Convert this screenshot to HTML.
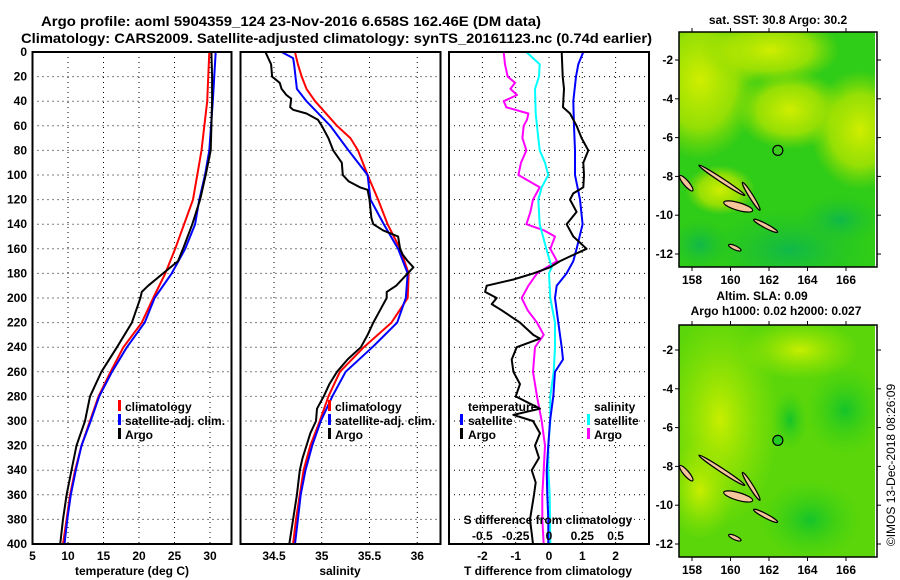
<!DOCTYPE html>
<html><head><meta charset="utf-8">
<style>
html,body{margin:0;padding:0;background:#fff;}
svg{display:block;font-family:"Liberation Sans",sans-serif;font-weight:bold;}
</style></head>
<body>
<svg id="chart" width="900" height="580" viewBox="0 0 900 580" xmlns="http://www.w3.org/2000/svg">
<defs>
<radialGradient id="sstY1" cx="0.5" cy="0.5" r="0.5"><stop offset="0" stop-color="#d0ee00"/><stop offset="0.6" stop-color="#aee400" stop-opacity="0.8"/><stop offset="1" stop-color="#8fdc00" stop-opacity="0"/></radialGradient>
<radialGradient id="sstG" cx="0.5" cy="0.5" r="0.5"><stop offset="0" stop-color="#0fb84a"/><stop offset="1" stop-color="#1fc22a" stop-opacity="0"/></radialGradient>
<radialGradient id="slaY" cx="0.5" cy="0.5" r="0.5"><stop offset="0" stop-color="#c8ee00"/><stop offset="1" stop-color="#a0e600" stop-opacity="0"/></radialGradient>
<radialGradient id="slaG" cx="0.5" cy="0.5" r="0.5"><stop offset="0" stop-color="#14c42a"/><stop offset="1" stop-color="#3cd010" stop-opacity="0"/></radialGradient>
<clipPath id="clipTop"><rect x="679" y="32" width="196" height="235"/></clipPath>
<clipPath id="clipBot"><rect x="679" y="325" width="196" height="232"/></clipPath>
</defs>
<g fill="#000" font-size="14">
<text x="41" y="26" textLength="500" lengthAdjust="spacingAndGlyphs">Argo profile: aoml 5904359_124 23-Nov-2016 6.658S 162.46E (DM data)</text>
<text x="21" y="43" textLength="631" lengthAdjust="spacingAndGlyphs">Climatology: CARS2009. Satellite-adjusted climatology: synTS_20161123.nc (0.74d earlier)</text>
</g>
<g id="grids"></g>
<g id="series"></g>
<g id="frames" fill="none" stroke="#000" stroke-width="2">
<rect x="32.5" y="52" width="199" height="492"/>
<rect x="240.5" y="52" width="200" height="492"/>
<rect x="449" y="52" width="200" height="492"/>
</g>
<g id="labels" font-size="12"></g>
<g font-size="12">
<text x="132" y="575" text-anchor="middle">temperature (deg C)</text>
<text x="340" y="575" text-anchor="middle">salinity</text>
<text x="548" y="575" text-anchor="middle">T difference from climatology</text>
<text x="548" y="524" text-anchor="middle">S difference from climatology</text>
</g>
<g font-size="12">
<g>
<rect x="118" y="400" width="3" height="11" fill="#f00"/><text x="125" y="411">climatology</text>
<rect x="118" y="414" width="3" height="11" fill="#00f"/><text x="125" y="425">satellite-adj. clim.</text>
<rect x="118" y="428" width="3" height="11" fill="#000"/><text x="125" y="439">Argo</text>
</g>
<g>
<rect x="328" y="400" width="3" height="11" fill="#f00"/><text x="335" y="411">climatology</text>
<rect x="328" y="414" width="3" height="11" fill="#00f"/><text x="335" y="425">satellite-adj. clim.</text>
<rect x="328" y="428" width="3" height="11" fill="#000"/><text x="335" y="439">Argo</text>
</g>
<g>
<text x="468" y="411">temperature</text>
<rect x="460" y="414" width="3" height="11" fill="#00f"/><text x="468" y="425">satellite</text>
<rect x="460" y="428" width="3" height="11" fill="#000"/><text x="468" y="439">Argo</text>
<text x="594" y="411">salinity</text>
<rect x="587" y="414" width="3" height="11" fill="#0ff"/><text x="594" y="425">satellite</text>
<rect x="587" y="428" width="3" height="11" fill="#f0f"/><text x="594" y="439">Argo</text>
</g>
</g>
<g>
<text x="778" y="24" font-size="12" text-anchor="middle">sat. SST: 30.8 Argo: 30.2</text>
<g clip-path="url(#clipTop)">
<rect x="679" y="32" width="196" height="235" fill="#2fcc18"/>
<ellipse cx="700" cy="80" rx="60" ry="80" fill="url(#sstY1)"/>
<ellipse cx="770" cy="50" rx="70" ry="35" fill="url(#sstY1)"/>
<ellipse cx="790" cy="110" rx="55" ry="40" fill="url(#sstY1)"/>
<ellipse cx="860" cy="130" rx="50" ry="60" fill="url(#sstY1)"/>
<ellipse cx="720" cy="190" rx="35" ry="25" fill="url(#sstY1)"/>
<ellipse cx="790" cy="250" rx="80" ry="40" fill="url(#sstG)"/>
<ellipse cx="840" cy="220" rx="40" ry="25" fill="url(#sstG)"/>
<ellipse cx="700" cy="245" rx="30" ry="25" fill="url(#sstG)"/>
<g id="islandsTop"></g>
</g>
<rect x="679" y="32" width="198" height="235" fill="none" stroke="#000" stroke-width="1.5"/>
<g id="ticksTop"></g>
</g>
<g>
<text x="762" y="300" font-size="12" text-anchor="middle">Altim. SLA: 0.09</text>
<text x="776" y="315" font-size="12" text-anchor="middle">Argo h1000: 0.02 h2000: 0.027</text>
<g clip-path="url(#clipBot)">
<rect x="679" y="325" width="196" height="232" fill="#5ad60a"/>
<ellipse cx="720" cy="420" rx="60" ry="110" fill="url(#slaY)"/>
<ellipse cx="800" cy="350" rx="60" ry="30" fill="url(#slaY)"/>
<ellipse cx="700" cy="490" rx="35" ry="50" fill="url(#slaY)"/>
<ellipse cx="845" cy="410" rx="40" ry="45" fill="url(#slaG)"/>
<ellipse cx="810" cy="520" rx="50" ry="40" fill="url(#slaG)"/>
<ellipse cx="790" cy="420" rx="18" ry="30" fill="url(#slaG)"/>
<g id="islandsBot"></g>
</g>
<rect x="679" y="325" width="198" height="232" fill="none" stroke="#000" stroke-width="1.5"/>
<g id="ticksBot"></g>
</g>
<text transform="translate(895,465) rotate(-90)" font-size="12" font-weight="normal" text-anchor="middle">©IMOS 13-Dec-2018 08:26:09</text>
</svg>
<script>
const depthTicks = [0,20,40,60,80,100,120,140,160,180,200,220,240,260,280,300,320,340,360,380,400];
const tempTicks = [5,10,15,20,25,30];
const salTicks = [34.5,35,35.5,36];
const salTickLabels = ["34.5","35","35.5","36"];
const diffTicks = [-2,-1,0,1,2];
const sDiffTicks = [-0.5,-0.25,0,0.25,0.5];
const sDiffTickLabels = ["-0.5","-0.25","0","0.25","0.5"];

const tArgoDepth = [0,20,40,60,80,100,120,140,160,170,180,190,195,200,220,240,260,280,300,320,340,360,380,400];
const tArgo = [30.2,30.3,30.3,30.2,30.1,29.4,28.6,27.5,26.2,25.5,23.4,21.3,20.4,20.2,19.0,16.9,14.7,13.1,12.4,11.2,10.5,9.8,9.3,8.9];
const tClimDepth = [0,40,80,120,160,180,200,220,240,260,280,300,320,340,360,380,400];
const tClim = [29.9,29.6,28.8,27.6,25.1,23.7,22.0,20.4,17.8,16.0,14.3,13.1,11.9,11.0,10.3,9.8,9.3];
const tSatDepth = [0,40,80,100,120,140,160,180,200,220,240,260,280,300,320,340,360,380,400];
const tSat = [30.8,30.4,29.9,29.3,28.5,27.9,26.5,24.6,22.2,20.8,18.3,16.2,14.4,13.2,11.9,11.1,10.4,9.9,9.5];

const sArgoDepth = [0,10,20,25,30,35,38,45,47,50,55,60,70,80,90,100,105,110,112,120,135,140,145,150,160,165,170,175,180,190,195,200,210,220,230,240,250,260,270,280,290,300,310,320,330,340,360,380,400];
const sArgo = [34.41,34.47,34.48,34.56,34.58,34.63,34.68,34.67,34.70,34.84,34.96,35.0,35.07,35.12,35.21,35.22,35.28,35.40,35.48,35.50,35.52,35.54,35.64,35.80,35.82,35.85,35.90,35.96,35.90,35.78,35.68,35.68,35.61,35.54,35.48,35.41,35.27,35.16,35.08,35.02,34.95,34.94,34.88,34.84,34.80,34.77,34.74,34.70,34.66];
const sClimDepth = [0,10,20,30,40,60,70,80,100,120,140,160,180,200,220,240,260,280,300,320,340,360,380,400];
const sClim = [34.72,34.75,34.79,34.84,34.93,35.16,35.30,35.38,35.48,35.59,35.69,35.82,35.91,35.90,35.73,35.44,35.19,35.07,34.98,34.88,34.81,34.77,34.73,34.70];
const sSatDepth = [0,5,10,30,40,60,80,100,120,140,160,180,200,220,240,260,280,300,320,340,360,380,400];
const sSat = [34.58,34.70,34.71,34.74,34.84,35.09,35.28,35.48,35.51,35.65,35.80,35.90,35.88,35.79,35.53,35.25,35.11,34.99,34.90,34.83,34.78,34.75,34.72];

const dTArgoDepth = [0,20,30,40,45,50,60,70,80,90,100,110,115,120,130,140,150,160,165,170,175,180,185,190,195,200,205,210,220,230,233,240,250,260,270,280,290,295,300,310,320,330,340,350,360,380,400];
const dTArgo = [0.38,0.41,0.45,0.43,0.42,0.63,0.83,0.98,1.18,1.03,1.05,1.03,0.73,0.63,0.83,0.53,0.73,1.13,0.73,0.33,0.03,-0.47,-1.07,-1.87,-1.92,-1.57,-1.72,-1.42,-0.87,-0.47,-0.27,-0.97,-1.12,-1.07,-0.87,-1.0,-0.27,-1.07,-0.48,-0.27,-0.42,-0.3,-0.52,-0.4,-0.45,-0.57,-0.48];
const dTSatDepth = [0,10,20,40,60,80,100,120,140,160,170,180,190,200,220,240,250,260,280,300,320,340,360,380,400];
const dTSat = [1.03,0.88,0.81,0.73,0.75,0.78,0.78,0.93,1.01,0.83,0.73,0.53,0.23,0.18,0.28,0.38,0.42,0.18,0.13,0.03,-0.02,-0.07,-0.05,-0.02,-0.02];
const dSArgoDepth = [0,10,20,25,30,35,40,45,50,55,60,70,80,90,100,110,120,130,140,145,150,160,170,180,190,200,210,220,230,240,260,280,300,320,340,360,380,400];
const dSArgo = [-0.34,-0.33,-0.31,-0.255,-0.29,-0.24,-0.34,-0.32,-0.155,-0.165,-0.19,-0.2,-0.17,-0.21,-0.23,-0.07,-0.12,-0.14,-0.17,-0.04,0.045,0.01,0.06,-0.09,-0.155,-0.205,-0.16,-0.09,-0.04,-0.105,-0.12,-0.09,-0.055,-0.03,-0.04,-0.05,-0.05,-0.04];
const dSSatDepth = [0,10,20,30,50,70,80,90,100,110,120,140,160,175,180,200,220,240,260,280,300,320,340,360,400];
const dSSat = [-0.17,-0.07,-0.075,-0.105,-0.1,-0.08,-0.07,-0.03,-0.005,-0.055,-0.08,-0.07,-0.02,0.02,0.0,0.01,0.045,0.045,0.035,0.01,0.01,-0.005,-0.005,0.005,0.01];

const mapLonTicks = [158,160,162,164,166];
const mapLatTicks = [-2,-4,-6,-8,-10,-12];
const argoLon = 162.46, argoLat = -6.658;
const islandLon1 = [158.4,157.4,159.7,160.65,161.25,159.95];
const islandLat1 = [-7.45,-8.0,-9.35,-8.35,-10.25,-11.55];
const islandLon2 = [160.7,158.0,161.1,161.5,162.4,160.5];
const islandLat2 = [-8.95,-8.7,-9.75,-9.7,-10.85,-11.8];
const islandHalf = [0.1,0.14,0.2,0.1,0.11,0.05];

const NS = "http://www.w3.org/2000/svg";
const yD = d => 52 + d*1.23;
const x1 = t => 32.5 + (t-5)*7.1;
const x2 = s => 274 + (s-34.5)*95.5;
const x3 = d => 549 + d*33.3;
const x3s = s => x3(s*4);
const topLon = lon => 692 + (lon-158)*19.25;
const topLat = lat => 60 + (-2-lat)*19.4;
const botLon = lon => 692 + (lon-158)*19.25;
const botLat = lat => 350 + (-2-lat)*19.4;

function mk(tag, attrs, parent){
  const el = document.createElementNS(NS, tag);
  for (const k in attrs) el.setAttribute(k, attrs[k]);
  parent.appendChild(el);
  return el;
}
const grids = document.getElementById('grids');
const series = document.getElementById('series');
const labels = document.getElementById('labels');
const dot = {stroke:'#000','stroke-width':1,'stroke-dasharray':'1,4'};

depthTicks.forEach(d=>{
  [[32.5,231.5],[240.5,440.5],[449,649]].forEach(p=>{
    const g = mk('line', Object.assign({x1:p[0],x2:p[1],y1:yD(d),y2:yD(d)},dot), grids);
    
    
  });
  const t = mk('text',{x:27,y:yD(d)+4,'text-anchor':'end'},labels);
  t.textContent = d;
  
  
});
function vgrid(ticks, fx, lbls, y0){
  ticks.forEach((v,i)=>{
    const g = mk('line', Object.assign({x1:fx(v),x2:fx(v),y1:52,y2:544},dot), grids);
    
    
    const t = mk('text',{x:fx(v),y:y0,'text-anchor':'middle'},labels);
    t.textContent = lbls ? lbls[i] : v;
    
    
  });
}
vgrid(tempTicks, x1, null, 560);
vgrid(salTicks, x2, salTickLabels, 560);
vgrid(diffTicks, x3, null, 560);
sDiffTicks.forEach((v,i)=>{
  const t = mk('text',{x:x3s(v),y:540,'text-anchor':'middle'},labels);
  t.textContent = sDiffTickLabels[i];
  
  
});

function line(depths, vals, fx, color, name, w){
  const pts = depths.map((d,i)=>fx(vals[i]).toFixed(1)+','+yD(d).toFixed(1)).join(' ');
  const p = mk('polyline',{points:pts,fill:'none',stroke:color,'stroke-width':w||2,'stroke-linejoin':'round'},series);
  
  
}
line(tClimDepth,tClim,x1,'#f00','temperature-climatology-line');
line(tSatDepth,tSat,x1,'#00f','temperature-satellite-line');
line(tArgoDepth,tArgo,x1,'#000','temperature-argo-line');
line(sClimDepth,sClim,x2,'#f00','salinity-climatology-line');
line(sSatDepth,sSat,x2,'#00f','salinity-satellite-line');
line(sArgoDepth,sArgo,x2,'#000','salinity-argo-line');
line(dSArgoDepth,dSArgo,x3s,'#f0f','s-diff-argo-line');
line(dSSatDepth,dSSat,x3s,'#0ff','s-diff-satellite-line');
line(dTSatDepth,dTSat,x3,'#00f','t-diff-satellite-line');
line(dTArgoDepth,dTArgo,x3,'#000','t-diff-argo-line');

function drawMap(gIsl, gTick, fLon, fLat, top, bottom, bg){
  islandLon1.forEach((l,i)=>{
    const ax=fLon(l), ay=fLat(islandLat1[i]), bx=fLon(islandLon2[i]), by=fLat(islandLat2[i]);
    const cx=(ax+bx)/2, cy=(ay+by)/2;
    const len=Math.hypot(bx-ax,by-ay)/2+1, ang=Math.atan2(by-ay,bx-ax)*180/Math.PI;
    const e = mk('ellipse',{cx:cx,cy:cy,rx:len,ry:Math.max(2,islandHalf[i]*19.3),transform:`rotate(${ang} ${cx} ${cy})`,fill:'#f5c69c',stroke:'#000','stroke-width':1.2},gIsl);
    
    
  });
  const c = mk('circle',{cx:fLon(argoLon),cy:fLat(argoLat),r:5,fill:bg,stroke:'#000','stroke-width':1.2},gIsl);
  
  
  mapLonTicks.forEach(l=>{
    mk('line',{x1:fLon(l),x2:fLon(l),y1:top-4,y2:top,stroke:'#000'},gTick);
    mk('line',{x1:fLon(l),x2:fLon(l),y1:bottom,y2:bottom+4,stroke:'#000'},gTick);
    const t = mk('text',{x:fLon(l),y:bottom+17,'text-anchor':'middle','font-size':12},gTick);
    t.textContent = l;
    
    
  });
  mapLatTicks.forEach(l=>{
    mk('line',{x1:675,x2:679,y1:fLat(l),y2:fLat(l),stroke:'#000'},gTick);
    mk('line',{x1:877,x2:881,y1:fLat(l),y2:fLat(l),stroke:'#000'},gTick);
    const t = mk('text',{x:673,y:fLat(l)+4,'text-anchor':'end','font-size':12},gTick);
    t.textContent = l;
    
    
  });
}
drawMap(document.getElementById('islandsTop'),document.getElementById('ticksTop'),topLon,topLat,32,267,'#3ccc20');
drawMap(document.getElementById('islandsBot'),document.getElementById('ticksBot'),botLon,botLat,325,557,'#22cc22');
</script>
</body></html>
